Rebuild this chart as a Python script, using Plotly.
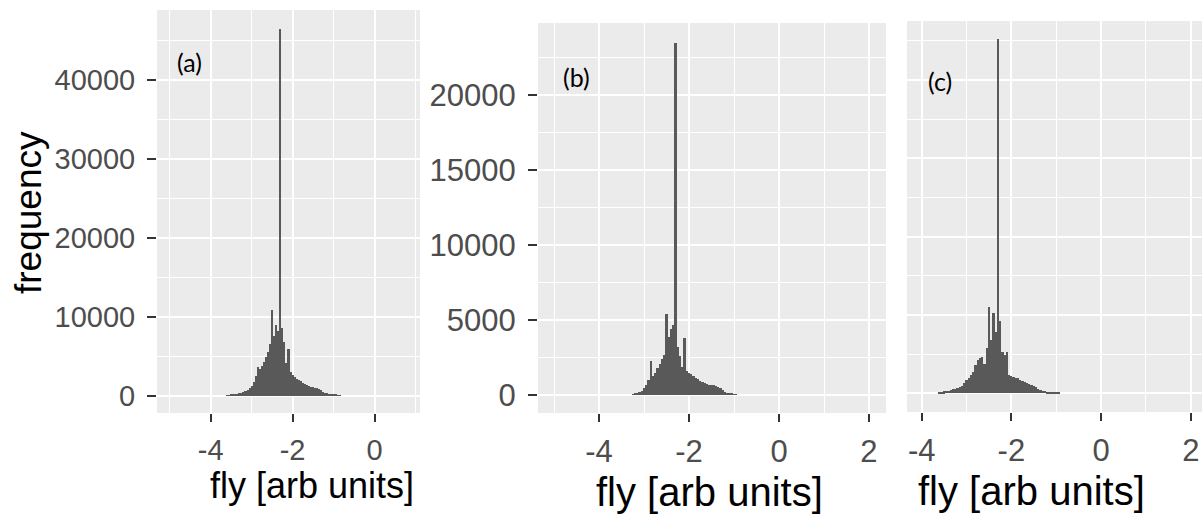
import numpy as np
import plotly.graph_objects as go

W, H = 1202, 514

# ---- data (bin centres in fly units, bin width 0.05) ----
bin_width = 0.05
centers_a = np.round(np.arange(-3.60, -0.849, 0.05), 2)
counts_a = [80, 120, 150, 180, 230, 280, 340, 420, 520, 650, 800, 1000, 1300, 1800,
            2500, 3700, 3400, 3800, 4300, 5000, 5600, 6600, 10900, 7600, 9000, 8200,
            46400, 8600, 6800, 4200, 5900, 3000, 2600, 2400, 2200, 2000, 1850, 1700,
            1550, 1400, 1300, 1200, 1100, 1050, 1000, 850, 700, 550, 420, 330, 260,
            200, 160, 130, 100, 80]

centers_b = np.round(np.arange(-3.25, -0.949, 0.05), 2)
counts_b = [40, 80, 120, 200, 300, 450, 700, 1000, 2250, 1300, 1500, 1800, 2100, 2400,
            2700, 5400, 3900, 4400, 4700, 23500, 3200, 2600, 1900, 3800, 1600, 1500,
            1400, 1300, 1150, 1050, 950, 850, 800, 750, 700, 680, 650, 600, 550, 450,
            330, 200, 120, 90, 70, 50, 40]

centers_c = np.round(np.arange(-3.60, -0.949, 0.05), 2)
counts_c = [60, 90, 120, 150, 180, 210, 250, 300, 350, 420, 500, 650, 850, 1000, 1170,
            1380, 1800, 2100, 2230, 2300, 1900, 2900, 5500, 3400, 5100, 3900, 22600,
            4600, 2650, 2450, 2650, 1170, 1100, 1060, 1000, 950, 850, 780, 700, 640,
            580, 530, 450, 380, 300, 230, 180, 140, 110, 90, 80, 70, 60, 50]

# tick labels
x_ticks_a = [-4, -2, 0]
x_ticks_bc = [-4, -2, 0, 2]
y_ticks_a = [0, 10000, 20000, 30000, 40000]
y_ticks_b = [0, 5000, 10000, 15000, 20000]
x_ticktext_a = ["-4", "-2", "0"]
x_ticktext_bc = ["-4", "-2", "0", "2"]
y_ticktext_a = ["0", "10000", "20000", "30000", "40000"]
y_ticktext_b = ["0", "5000", "10000", "15000", "20000"]

panel_labels = ["(a)", "(b)", "(c)"]
x_title = "fly [arb units]"
y_title = "frequency"

# ---- layout geometry (pixels) ----
panels = {
    "a": dict(x0=157, x1=420, y0=10, y1=413, xr=[-5.31, 1.11], yr=[-2152, 48861],
              ydt=10000, labels=True, tfs=29,
              xt=(x_ticks_a, x_ticktext_a), yt=(y_ticks_a, y_ticktext_a)),
    "b": dict(x0=538, x1=886, y0=23, y1=413, xr=[-5.356, 2.378], yr=[-1200, 24800],
              ydt=5000, labels=True, tfs=31,
              xt=(x_ticks_bc, x_ticktext_bc), yt=(y_ticks_b, y_ticktext_b)),
    "c": dict(x0=907, x1=1202, y0=21, y1=412, xr=[-4.327, 2.25], yr=[-1190, 23770],
              ydt=5000, labels=False, tfs=31,
              xt=(x_ticks_bc, x_ticktext_bc), yt=(y_ticks_b, y_ticktext_b)),
}

fig = go.Figure()
bar_color = "#595959"
data = [(centers_a, counts_a), (centers_b, counts_b), (centers_c, counts_c)]
for i, (cx, cy) in enumerate(data):
    suffix = "" if i == 0 else str(i + 1)
    fig.add_trace(go.Bar(x=cx, y=cy, width=bin_width, marker=dict(color=bar_color, line=dict(width=0)),
                         xaxis="x" + suffix, yaxis="y" + suffix, showlegend=False,
                         hoverinfo="x+y"))

tick_font_color = "#4D4D4D"
for i, key in enumerate(["a", "b", "c"]):
    p = panels[key]
    suffix = "" if i == 0 else str(i + 1)
    xd = [p["x0"] / W, p["x1"] / W]
    yd = [1 - p["y1"] / H, 1 - p["y0"] / H]
    fig.layout["xaxis" + suffix] = dict(
        domain=xd, range=p["xr"], anchor="y" + suffix,
        tickmode="array", tickvals=p["xt"][0], ticktext=p["xt"][1],
        showgrid=True, gridcolor="white", gridwidth=1.8, zeroline=False,
        minor=dict(dtick=1, tick0=0, showgrid=True, gridcolor="white", gridwidth=0.9),
        ticks="outside", ticklen=8, tickwidth=2, tickcolor="#333333",
        ticklabelstandoff=3,
        tickfont=dict(family="Liberation Sans, Arial", size=p["tfs"], color=tick_font_color),
        showline=False, fixedrange=True,
    )
    fig.layout["yaxis" + suffix] = dict(
        domain=yd, range=p["yr"], anchor="x" + suffix,
        tickmode="array", tickvals=p["yt"][0], ticktext=p["yt"][1],
        showgrid=True, gridcolor="white", gridwidth=1.8, zeroline=False,
        minor=dict(dtick=p["ydt"] / 2, tick0=0, showgrid=True, gridcolor="white", gridwidth=0.9),
        ticks="outside" if p["labels"] else "", ticklen=9, tickwidth=2, tickcolor="#333333",
        showticklabels=p["labels"], ticklabelstandoff=6,
        tickfont=dict(family="Liberation Sans, Arial", size=p["tfs"], color=tick_font_color),
        showline=False, fixedrange=True,
    )

# panel backgrounds
for key in ["a", "b", "c"]:
    p = panels[key]
    fig.add_shape(type="rect", xref="paper", yref="paper",
                  x0=p["x0"] / W, x1=p["x1"] / W, y0=1 - p["y1"] / H, y1=1 - p["y0"] / H,
                  fillcolor="#EBEBEB", line=dict(width=0), layer="below")

# axis titles
title_pos = [(312, 485, 36), (709, 492, 40), (1031, 491, 40)]
for (tx, ty, fs) in title_pos:
    fig.add_annotation(text=x_title, x=tx / W, y=1 - ty / H, xref="paper", yref="paper",
                       showarrow=False, xanchor="center", yanchor="middle",
                       font=dict(family="Liberation Sans, Arial", size=fs, color="black"))
fig.add_annotation(text=y_title, x=28 / W, y=1 - 213 / H, xref="paper", yref="paper",
                   showarrow=False, textangle=-90, xanchor="center", yanchor="middle",
                   font=dict(family="Liberation Sans, Arial", size=37, color="black"))

# panel labels
label_pos = [(189, 62), (576, 77), (940, 81)]
for lab, (lx, ly) in zip(panel_labels, label_pos):
    fig.add_annotation(text=lab, x=lx / W, y=1 - ly / H, xref="paper", yref="paper",
                       showarrow=False, xanchor="center", yanchor="middle",
                       font=dict(family="Lato, Open Sans", size=25, color="black"))

fig.update_layout(width=W, height=H, margin=dict(l=0, r=0, t=0, b=0, pad=0),
                  paper_bgcolor="white", plot_bgcolor="rgba(0,0,0,0)", bargap=0)

fig.write_html("out.html")
